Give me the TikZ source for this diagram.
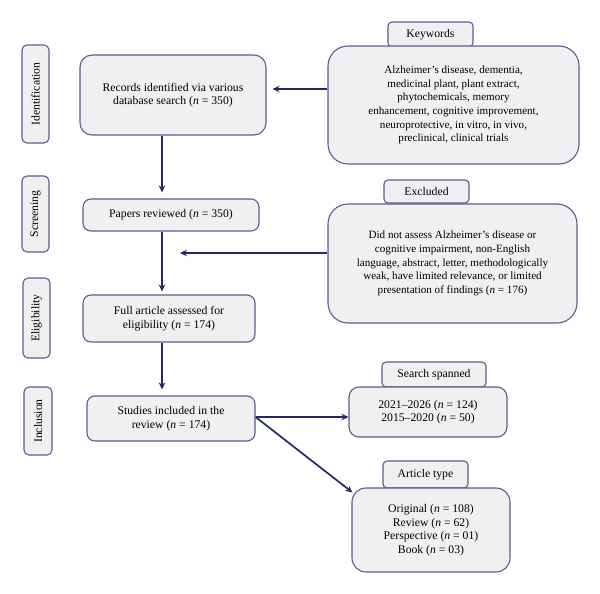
\documentclass[tikz,border=0pt]{standalone}
\usepackage{fontspec}
\setmainfont{Liberation Serif}
\usetikzlibrary{arrows.meta,calc}
\definecolor{bordc}{HTML}{5E5C90}
\definecolor{arrc}{HTML}{272768}
\definecolor{fillc}{HTML}{F0F0F3}
\tikzset{
  box/.style={draw=bordc, fill=fillc, line width=1.1pt, rounded corners=#1, align=center, inner sep=2pt, font=\fontsize{11.7}{13.6}\selectfont},
  box/.default=12pt,
  bigbox/.style={box=20pt, font=\fontsize{11.1}{13.6}\selectfont},
  tagbox/.style={box=4pt},
  side/.style={box=5pt, rotate=90},
  arr/.style={draw=arrc, line width=1.7pt, -{Stealth[length=7pt,width=6.5pt]}},
}
\newcommand{\nn}[1]{(\textit{n}~=~#1)}
\begin{document}
\begin{tikzpicture}[x=1pt,y=-1pt]
\useasboundingbox (0,0) rectangle (600,594);
% side labels
\node[side, minimum width=98pt, minimum height=27pt] (idn) at (35.5,94) {Identification};
\node[side, minimum width=76pt, minimum height=27pt] (scr) at (35.5,214) {Screening};
\node[side, minimum width=80pt, minimum height=27pt] (eli) at (36.5,318) {Eligibility};
\node[side, minimum width=68pt, minimum height=28pt] (inc) at (38,421) {Inclusion};
% main column
\node[box, minimum width=186pt, minimum height=80pt] (rec) at (173,95) {Records identified via various\\database search \nn{350}};
\node[box=8pt, minimum width=176pt, minimum height=32pt] (pap) at (171,215) {Papers reviewed \nn{350}};
\node[box=8pt, minimum width=172pt, minimum height=47pt] (ful) at (169,318.5) {Full article assessed for\\eligibility \nn{174}};
\node[box=8pt, minimum width=168pt, minimum height=45pt] (stu) at (171,418.5) {Studies included in the\\review \nn{174}};
% right column
\node[tagbox, minimum width=85pt, minimum height=25pt] (kwl) at (430.5,34.5) {Keywords};
\node[bigbox, minimum width=251pt, minimum height=118pt] (kw) at (453.5,105) {Alzheimer's disease, dementia,\\medicinal plant, plant extract,\\phytochemicals, memory\\enhancement, cognitive improvement,\\neuroprotective, in vitro, in vivo,\\preclinical, clinical trials};
\node[tagbox, minimum width=85pt, minimum height=23pt] (exl) at (426.5,191.5) {Excluded};
\node[bigbox, minimum width=249pt, minimum height=119pt] (ex) at (452.5,263.5) {Did not assess Alzheimer's disease or\\cognitive impairment, non-English\\language, abstract, letter, methodologically\\weak, have limited relevance, or limited\\presentation of findings \nn{176}};
\node[tagbox, minimum width=104pt, minimum height=25pt] (spl) at (434,374.5) {Search spanned};
\node[box=10pt, minimum width=158pt, minimum height=50pt] (sp) at (428,412) {2021–2026 \nn{124}\\2015–2020 \nn{50}};
\node[tagbox, minimum width=85pt, minimum height=27pt] (atl) at (425.5,474.5) {Article type};
\node[box=14pt, minimum width=158pt, minimum height=84pt] (at) at (431,530) {Original \nn{108}\\Review \nn{62}\\Perspective \nn{01}\\Book \nn{03}};
% connectors
\coordinate (colx) at (162,0);
\draw[arr, shorten >=6pt] (rec.south -| colx) -- (pap.north -| colx);
\draw[arr, shorten >=3pt] (pap.south -| colx) -- (ful.north -| colx);
\draw[arr, shorten >=6pt] (ful.south -| colx) -- (stu.north -| colx);
\coordinate (kwy) at (0,89);
\draw[arr, shorten >=6pt] (kw.west |- kwy) -- (rec.east |- kwy);
\coordinate (exend) at (180,253);
\draw[arr] (ex.west |- exend) -- (exend);
\coordinate (stuo) at ($(stu.east)+(0,-1.5)$);
\draw[arr] (stuo) -- (sp.west |- stuo);
\coordinate (atend) at ($(at.north west)+(1,5)$);
\draw[arr] (stuo) -- (atend);
\end{tikzpicture}
\end{document}
